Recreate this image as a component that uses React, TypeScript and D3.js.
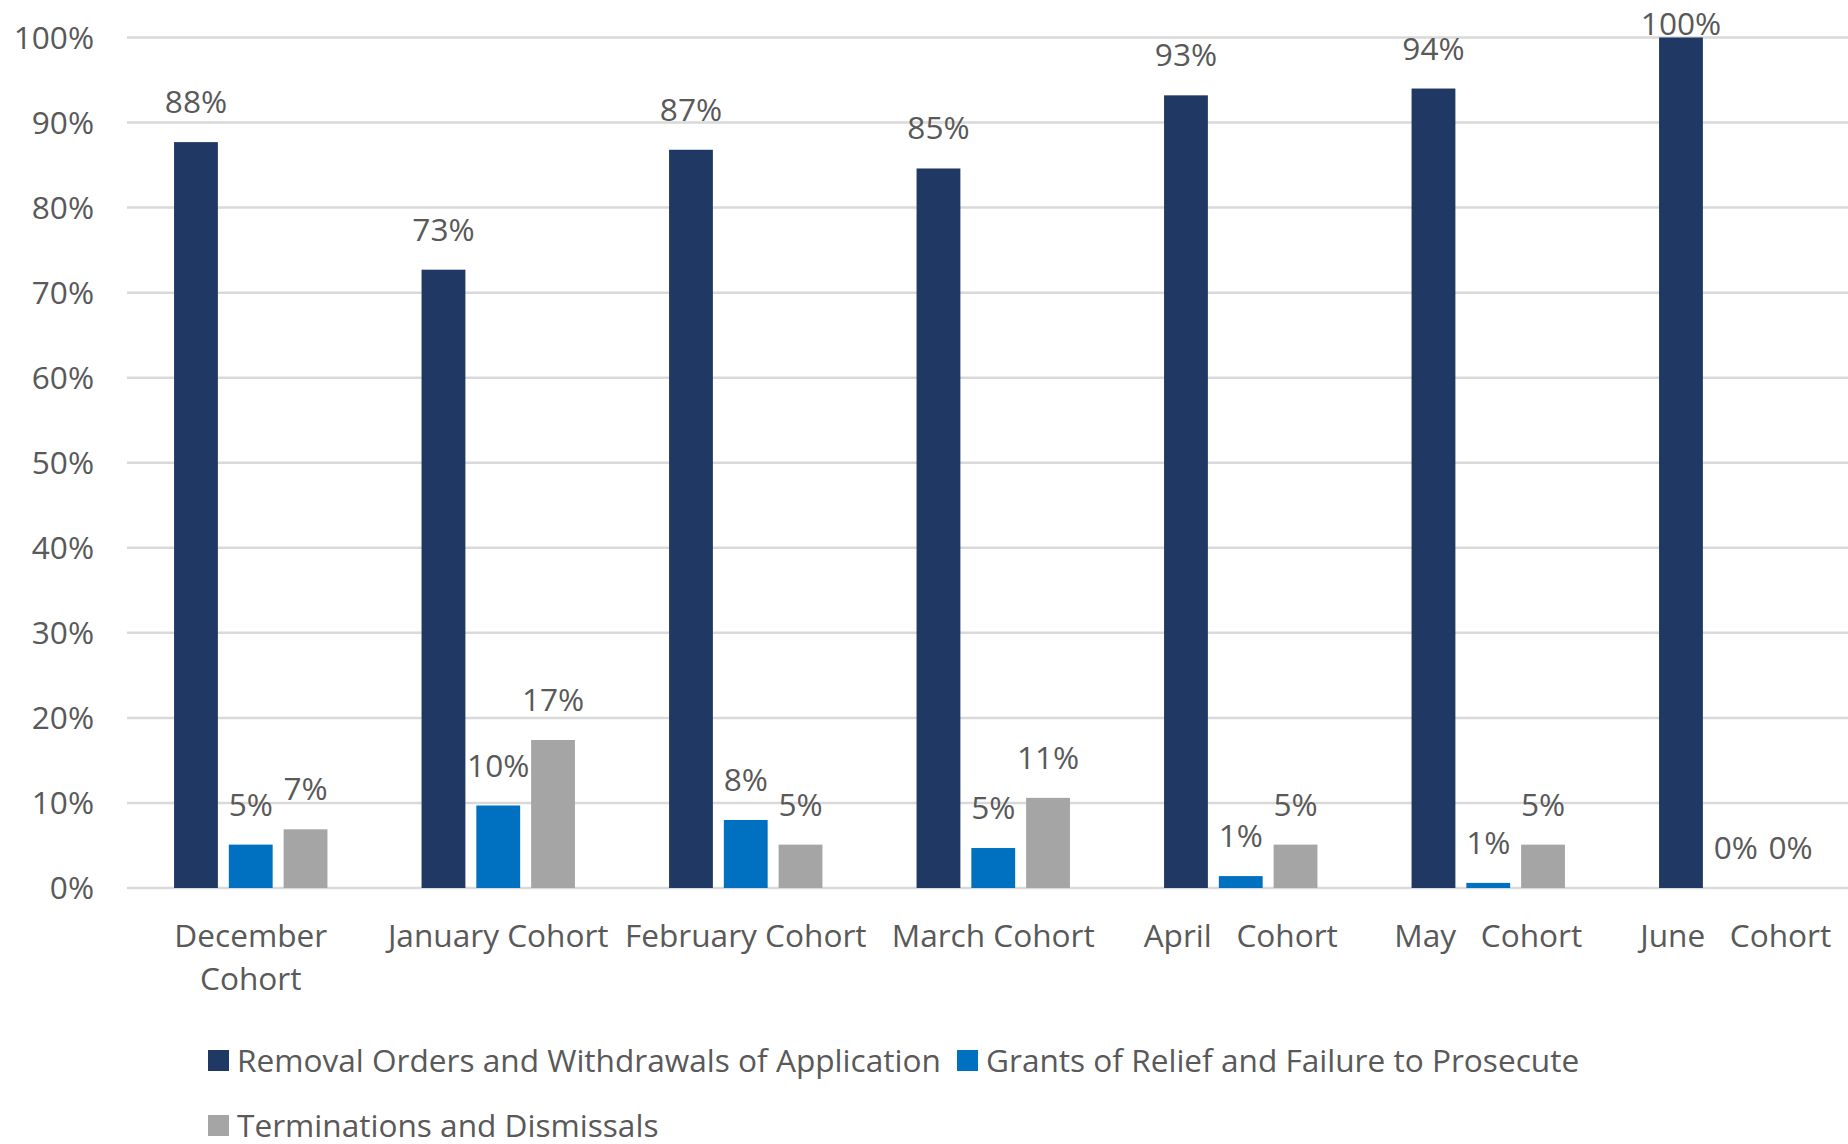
import React from 'react';
import * as d3 from 'd3';

const cohorts = [
  ['December', 'Cohort'],
  ['January Cohort'],
  ['February Cohort'],
  ['March Cohort'],
  ['April   Cohort'],
  ['May   Cohort'],
  ['June   Cohort'],
];

const seriesNames = [
  'Removal Orders and Withdrawals of Application',
  'Grants of Relief and Failure to Prosecute',
  'Terminations and Dismissals',
];

const removals = [0.877, 0.727, 0.868, 0.846, 0.932, 0.94, 1.0];
const grants = [0.051, 0.097, 0.08, 0.047, 0.014, 0.006, 0];
const terminations = [0.069, 0.174, 0.051, 0.106, 0.051, 0.051, 0];

const yTicks = [0, 0.1, 0.2, 0.3, 0.4, 0.5, 0.6, 0.7, 0.8, 0.9, 1.0];

const colors = ['#203864', '#0070C0', '#A5A5A5'];

const W = 1848;
const H = 1144;
const FONT = '"Open Sans", sans-serif';
const FS = 31.6;
const TEXT = '#595959';

export default function App() {
  const values = [removals, grants, terminations];
  const keys = cohorts.map((c) => c.join(' '));

  const x0 = d3.scaleBand()
    .domain(keys)
    .range([127, 127 + 7 * 247.5])
    .paddingInner(0.336)
    .paddingOuter(0.168);

  const x1 = d3.scaleBand()
    .domain(seriesNames)
    .range([0, x0.bandwidth()])
    .paddingInner(0.2)
    .paddingOuter(0.1);

  const y = d3.scaleLinear().domain([0, 1]).range([888, 37.5]);
  const fmt = (v) => Math.round(v * 100) + '%';

  return (
    <svg width={W} height={H} style={{ position: 'absolute', left: 0, top: 0, background: '#fff' }}>
      {/* gridlines */}
      {yTicks.map((t) => (
        <line key={t} x1={127} x2={W} y1={y(t)} y2={y(t)} stroke="#D9D9D9" strokeWidth={2.5} />
      ))}
      {/* y labels */}
      {yTicks.map((t) => (
        <text key={'l' + t} x={94} y={y(t) + 11} textAnchor="end" fontFamily={FONT} fontSize={FS} fill={TEXT}>
          {fmt(t)}
        </text>
      ))}

      {/* bars */}
      {keys.map((k, i) => (
        <g key={k} transform={`translate(${x0(k)},0)`}>
          {seriesNames.map((s, j) => {
            const v = values[j][i];
            const bx = x1(s);
            return (
              <g key={s}>
                <rect x={bx} y={y(v)} width={x1.bandwidth()} height={y(0) - y(v)} fill={colors[j]} />
                <text
                  x={bx + x1.bandwidth() / 2}
                  y={Math.max(y(v) - 29, 35)}
                  textAnchor="middle"
                  fontFamily={FONT}
                  fontSize={FS}
                  fill={TEXT}
                >
                  {fmt(v)}
                </text>
              </g>
            );
          })}
          {/* category label */}
          <text
            x={x0.bandwidth() / 2}
            y={947}
            textAnchor="middle"
            fontFamily={FONT}
            fontSize={FS}
            fill={TEXT}
            style={{ whiteSpace: 'pre' }}
          >
            {cohorts[i].map((line, li) => (
              <tspan key={li} x={x0.bandwidth() / 2} dy={li === 0 ? 0 : 43}>{line}</tspan>
            ))}
          </text>
        </g>
      ))}

      {/* legend */}
      {[
        { s: 0, x: 208, y: 1061 },
        { s: 1, x: 957, y: 1061 },
        { s: 2, x: 208, y: 1126 },
      ].map((d) => (
        <g key={d.s}>
          <rect x={d.x} y={d.y - 11} width={21} height={21} fill={colors[d.s]} />
          <text x={d.x + 29} y={d.y + 11} fontFamily={FONT} fontSize={FS} fill={TEXT}>
            {seriesNames[d.s]}
          </text>
        </g>
      ))}
    </svg>
  );
}
